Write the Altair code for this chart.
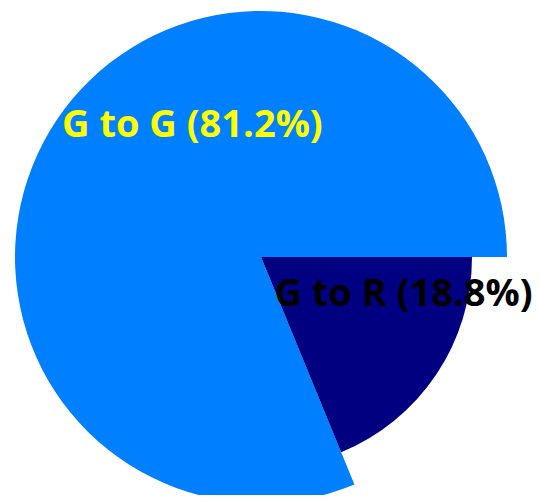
import math
import altair as alt
import pandas as pd

categories = ["G to R", "G to G"]
shares = [18.8, 81.2]

df = pd.DataFrame({"category": categories, "share": shares})

theta_scale = alt.Scale(domain=[0, 100], range=[math.pi / 2, math.pi / 2 + 2 * math.pi])

base = (
    alt.Chart(df)
    .transform_stack(
        stack="share",
        groupby=[],
        as_=["start", "end"],
        sort=[alt.SortField("category", order="descending")],
    )
    .transform_calculate(
        mid="(datum.start + datum.end) / 2",
        label="datum.category + ' (' + format(datum.share, '.1f') + '%)'",
    )
)

FONT = "Open Sans"
FS = 38

arc_g = (
    base.transform_filter(alt.datum.category == "G to G")
    .mark_arc(outerRadius=246, color="#0080FF")
    .encode(theta=alt.Theta("start:Q", scale=theta_scale), theta2="end:Q")
)
arc_r = (
    base.transform_filter(alt.datum.category == "G to R")
    .mark_arc(outerRadius=211, color="#000080")
    .encode(theta=alt.Theta("start:Q", scale=theta_scale), theta2="end:Q")
)
text_g = (
    base.transform_filter(alt.datum.category == "G to G")
    .mark_text(radius=150, dx=56, dy=-36, font=FONT, fontSize=FS, fontWeight="bold",
               color="#FFFF00", align="center", baseline="alphabetic")
    .encode(theta=alt.Theta("mid:Q", scale=theta_scale), text="label:N")
)
text_r = (
    base.transform_filter(alt.datum.category == "G to R")
    .mark_text(radius=150, dx=18, dy=-35, font=FONT, fontSize=FS, fontWeight="bold",
               color="#000000", align="center", baseline="alphabetic")
    .encode(theta=alt.Theta("mid:Q", scale=theta_scale), text="label:N")
)

chart = (
    alt.layer(arc_g, arc_r, text_g, text_r)
    .properties(
        width=506,
        height=476,
        autosize=alt.AutoSizeParams(type="none"),
        padding={"top": 11, "left": 0, "right": 19, "bottom": 0},
    )
    .configure_view(stroke=None)
)

chart.save("out.html", embed_options={"renderer": "svg", "actions": False})
